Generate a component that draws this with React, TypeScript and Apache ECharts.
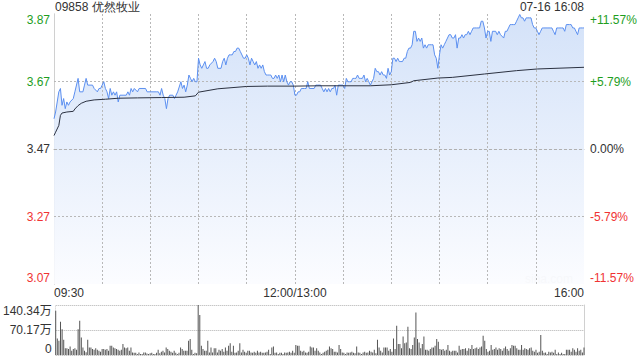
import React, { useEffect, useRef } from "react";
import * as echarts from "echarts";

const stockTitle = "09858 优然牧业";
const stamp = "07-16 16:08";
const prevClose = 3.47;
const rangePct = 11.57;
const volMax = 140.34; // 万
const timeLabels: Record<number, string> = { 0: "09:30", 150: "12:00/13:00", 330: "16:00" };
const timeGridMinutes = [30, 60, 90, 120, 150, 180, 210, 240, 270, 300];

// [minute since 09:30 (trading minutes), price]
const priceTicks: [number, number][] = [
  [0,3.56],[1,3.58],[3,3.64],[4,3.65],[5,3.60],[6,3.62],[7,3.59],[8,3.61],[9,3.60],[10,3.61],
  [12,3.62],[13,3.64],[15,3.68],[16,3.64],[18,3.64],[19,3.66],[20,3.68],[21,3.66],[23,3.66],[24,3.66],
  [25,3.65],[27,3.64],[28,3.65],[29,3.65],[31,3.67],[32,3.65],[33,3.64],[34,3.62],[35,3.65],[36,3.63],
  [37,3.64],[38,3.63],[39,3.64],[40,3.61],[41,3.63],[43,3.63],[45,3.63],[46,3.64],[47,3.63],[48,3.65],
  [49,3.64],[50,3.65],[52,3.64],[53,3.65],[57,3.65],[58,3.64],[64,3.64],[65,3.64],[66,3.63],[67,3.65],
  [68,3.63],[69,3.62],[70,3.59],[71,3.62],[72,3.63],[74,3.63],[75,3.62],[76,3.63],[77,3.64],[79,3.67],
  [80,3.65],[81,3.66],[82,3.64],[83,3.66],[84,3.69],[85,3.68],[86,3.67],[87,3.68],[88,3.67],[89,3.67],
  [90,3.74],[91,3.72],[92,3.71],[93,3.72],[94,3.73],[95,3.71],[96,3.71],[97,3.72],[99,3.73],[100,3.74],
  [101,3.73],[102,3.71],[104,3.71],[105,3.73],[106,3.74],[107,3.72],[108,3.74],[109,3.75],[110,3.75],[111,3.75],
  [112,3.76],[113,3.76],[114,3.77],[115,3.77],[116,3.76],[118,3.74],[119,3.74],[120,3.75],[121,3.74],[122,3.72],
  [123,3.74],[124,3.73],[125,3.72],[126,3.73],[127,3.71],[128,3.72],[129,3.71],[130,3.72],[131,3.70],[132,3.69],
  [133,3.69],[134,3.69],[135,3.69],[136,3.68],[137,3.68],[138,3.69],[139,3.68],[140,3.69],[141,3.67],[142,3.69],
  [143,3.67],[144,3.69],[145,3.67],[146,3.66],[147,3.67],[148,3.67],[149,3.66],[150,3.63],[151,3.63],[152,3.64],
  [153,3.64],[154,3.65],[155,3.65],[156,3.65],[157,3.65],[158,3.67],[159,3.65],[160,3.65],[162,3.65],[163,3.66],
  [164,3.66],[166,3.66],[167,3.65],[168,3.64],[169,3.65],[170,3.64],[171,3.65],[172,3.64],[173,3.65],[174,3.65],
  [175,3.66],[176,3.63],[177,3.66],[178,3.66],[180,3.66],[181,3.65],[182,3.68],[183,3.67],[184,3.67],[185,3.67],
  [186,3.68],[187,3.68],[188,3.68],[189,3.69],[190,3.68],[191,3.68],[192,3.68],[193,3.69],[194,3.67],[195,3.68],
  [196,3.67],[197,3.66],[198,3.67],[199,3.68],[200,3.71],[201,3.70],[202,3.70],[203,3.69],[204,3.70],[205,3.69],
  [206,3.69],[207,3.68],[208,3.71],[209,3.69],[210,3.70],[211,3.74],[212,3.74],[213,3.73],[214,3.74],[215,3.73],
  [216,3.73],[217,3.73],[218,3.74],[219,3.74],[220,3.76],[221,3.77],[222,3.77],[223,3.78],[224,3.82],[225,3.82],
  [226,3.79],[227,3.80],[228,3.79],[229,3.80],[230,3.77],[231,3.78],[232,3.77],[233,3.78],[234,3.78],[235,3.78],
  [236,3.78],[237,3.75],[238,3.74],[239,3.71],[240,3.75],[241,3.78],[242,3.77],[243,3.78],[244,3.79],[245,3.80],
  [246,3.81],[247,3.81],[248,3.80],[249,3.80],[250,3.81],[251,3.77],[252,3.80],[253,3.80],[254,3.81],[255,3.80],
  [256,3.81],[257,3.81],[258,3.82],[259,3.81],[260,3.82],[261,3.83],[262,3.83],[263,3.83],[264,3.83],[265,3.83],
  [266,3.85],[267,3.85],[268,3.83],[269,3.80],[270,3.82],[271,3.82],[272,3.79],[273,3.82],[274,3.82],[275,3.82],
  [276,3.81],[277,3.82],[278,3.81],[280,3.80],[281,3.82],[282,3.82],[283,3.83],[284,3.84],[285,3.84],[286,3.84],
  [287,3.84],[288,3.85],[289,3.86],[290,3.87],[291,3.86],[292,3.86],[293,3.85],[294,3.86],[295,3.86],[296,3.86],
  [297,3.86],[298,3.84],[299,3.83],[300,3.83],[301,3.82],[302,3.81],[303,3.82],[304,3.83],[305,3.83],[307,3.83],
  [309,3.83],[310,3.83],[311,3.82],[312,3.81],[313,3.83],[314,3.83],[315,3.83],[316,3.83],[317,3.83],[318,3.82],
  [319,3.84],[321,3.84],[322,3.84],[323,3.83],[324,3.83],[325,3.82],[326,3.81],[327,3.83],[328,3.83],[329,3.83],
  [330,3.83],
];

// [minute, average price]
const avgTicks: [number, number][] = [
  [0,3.51],[1,3.52],[3,3.54],[4,3.57],[5,3.577],[8,3.58],[12,3.582],[13,3.589],[15,3.599],[17,3.606],
  [20,3.612],[25,3.616],[32,3.618],[40,3.621],[52,3.622],[67,3.623],[81,3.624],[88,3.628],[90,3.639],[102,3.649],
  [120,3.656],[133,3.657],[150,3.657],[165,3.658],[197,3.658],[210,3.661],[222,3.668],[224,3.673],[239,3.681],
  [248,3.683],[268,3.693],[288,3.703],[301,3.708],[330,3.713],
];

// volume per minute, in 万 shares (index = minute)
const volumes: number[] = [
  124,46,40,93,72,43,19,19,17,24,
  12,17,19,15,72,96,49,21,12,8,
  43,21,21,17,15,19,15,12,9,17,
  17,15,17,12,26,26,21,19,17,15,
  12,15,31,21,19,21,12,21,7,6,
  6,3,7,3,3,7,7,4,3,5,
  6,3,3,6,15,5,9,12,7,21,
  17,12,9,6,12,6,3,6,21,17,
  12,12,12,40,45,15,3,6,5,140.34,
  112,26,17,12,12,40,7,21,7,19,
  19,7,15,12,17,9,21,12,26,33,
  9,26,6,7,12,33,7,15,9,6,
  12,12,7,6,9,6,12,7,9,6,
  6,7,9,15,3,21,24,6,7,3,
  6,6,3,7,6,7,9,6,12,6,
  28,26,26,12,9,12,7,6,9,24,
  21,21,12,19,12,7,3,6,9,12,
  15,24,19,17,9,9,7,28,17,7,
  6,3,7,6,7,9,6,5,24,7,
  6,3,7,9,6,7,12,9,7,15,
  5,43,21,12,7,21,21,21,12,17,
  9,46,17,82,31,31,19,52,33,35,
  79,19,17,28,49,119,45,35,19,31,
  52,15,15,12,17,21,21,26,45,37,
  17,15,17,12,15,28,12,9,12,12,
  12,7,26,15,17,17,19,12,19,17,
  28,17,19,21,17,21,24,54,40,17,
  9,12,28,15,17,21,15,19,17,12,
  19,24,17,12,19,28,26,26,19,15,
  15,28,15,19,17,15,19,21,12,9,
  15,6,9,56,12,6,7,3,9,7,
  9,6,15,3,7,3,6,3,3,15,
  15,15,9,19,15,9,19,12,15,7,21,
];

const FONT = "'Liberation Sans', Arial, 'Noto Sans CJK SC', sans-serif";
const GREEN = "#1e9e1e";
const RED = "#f03333";
const DARK = "#333333";
const GRID_C = "#b8b8b8";
const BORDER = "#d0d0d0";

const colorFor = (v: number) => (Math.abs(v) < 1e-9 ? DARK : v > 0 ? GREEN : RED);

export default function App() {
  const ref = useRef<HTMLDivElement>(null);
  useEffect(() => {
    if (!ref.current) return;
    const chart = echarts.init(ref.current, undefined, { renderer: "svg" });
    const lo = prevClose * (1 - rangePct / 100);
    const hi = prevClose * (1 + rangePct / 100);
    const pctLabel = (v: number) => {
      const a = Math.round(Math.abs(v) * 100 + 1e-6) / 100;
      if (a === 0) return "0.00%";
      return (v > 0 ? "+" : "-") + a.toFixed(2) + "%";
    };
    const priceLabel = (v: number) => (prevClose * (1 + v / 100)).toFixed(2);
    const dotted = { color: GRID_C, width: 1, type: [2, 2] };
    const gridLines: any[] = [
      ...timeGridMinutes.map((m) => ({ xAxis: m, lineStyle: dotted })),
      { yAxis: prevClose * (1 + rangePct / 200), lineStyle: dotted },
      { yAxis: prevClose * (1 - rangePct / 200), lineStyle: dotted },
      { yAxis: prevClose, lineStyle: { color: "#b0b0b0", type: [3, 2], width: 1 } },
    ];

    chart.setOption({
      animation: false,
      textStyle: { fontFamily: FONT },
      grid: [
        { left: 54, right: 56, top: 14, height: 270 },
        { left: 54, right: 56, top: 305, height: 50 },
      ],
      xAxis: [
        {
          gridIndex: 0, type: "value", position: "bottom", min: 0, max: 330, interval: 30,
          axisLine: { show: true, lineStyle: { color: BORDER } },
          axisTick: { show: false },
          splitLine: { show: false },
          axisLabel: {
            show: true, margin: 3, fontSize: 12, color: DARK, fontFamily: FONT,
            showMinLabel: true, showMaxLabel: true,
            alignMinLabel: "left", alignMaxLabel: "right",
            formatter: (v: number) => timeLabels[Math.round(v)] ?? "",
          },
        },
        {
          gridIndex: 0, type: "value", position: "top", min: 0, max: 330,
          axisLine: { show: true, lineStyle: { color: BORDER } },
          axisTick: { show: false }, axisLabel: { show: false }, splitLine: { show: false },
        },
        {
          gridIndex: 1, type: "value", min: 0, max: 330, interval: 30,
          axisLine: { show: false }, axisTick: { show: false }, axisLabel: { show: false },
          splitLine: { show: false },
        },
      ],
      yAxis: [
        {
          gridIndex: 0, type: "value", position: "left", min: -rangePct, max: rangePct, interval: rangePct / 2,
          axisLine: { show: true, lineStyle: { color: BORDER } },
          axisTick: { show: false },
          splitLine: { show: false },
          axisLabel: {
            margin: 4, fontSize: 12, fontFamily: FONT,
            showMinLabel: true, showMaxLabel: true,
            verticalAlignMinLabel: "bottom", verticalAlignMaxLabel: "top",
            color: (v: any) => colorFor(Number(v)),
            formatter: priceLabel,
          },
        },
        {
          gridIndex: 0, type: "value", position: "right", min: lo, max: hi,
          axisLine: { show: true, lineStyle: { color: BORDER } },
          axisTick: { show: false },
          splitLine: { show: false },
          axisLabel: { show: false },
        },
        {
          gridIndex: 1, type: "value", position: "left", min: 0, max: volMax, interval: volMax / 2,
          axisLine: { show: true, lineStyle: { color: "#dddddd", type: "dotted" } },
          axisTick: { show: false },
          splitLine: { show: true, lineStyle: { color: "#b0b0b0", type: "dotted" } },
          axisLabel: {
            margin: 4, fontSize: 12, color: DARK, fontFamily: FONT,
            showMinLabel: true, showMaxLabel: true,
            verticalAlignMinLabel: "bottom", verticalAlignMaxLabel: "top",
            formatter: (v: number) => (v === 0 ? "0" : v.toFixed(2) + "万"),
          },
        },
        {
          gridIndex: 1, type: "value", position: "right", min: 0, max: volMax,
          axisLine: { show: true, lineStyle: { color: BORDER } },
          axisTick: { show: false }, axisLabel: { show: false }, splitLine: { show: false },
        },
        {
          gridIndex: 0, type: "value", position: "right", offset: 0, min: -rangePct, max: rangePct, interval: rangePct / 2,
          axisLine: { show: false },
          axisTick: { show: false },
          splitLine: { show: false },
          axisLabel: {
            margin: 6, fontSize: 12, fontFamily: FONT,
            showMinLabel: true, showMaxLabel: true,
            verticalAlignMinLabel: "bottom", verticalAlignMaxLabel: "top",
            color: (v: any) => colorFor(Number(v)),
            formatter: pctLabel,
          },
        },
      ],
      graphic: [
        { type: "text", left: 55, top: 1, style: { text: stockTitle, fontSize: 12, fill: DARK, font: `12px ${FONT}` } },
        { type: "text", right: 56, top: 1, style: { text: stamp, fontSize: 12, fill: DARK, font: `12px ${FONT}` } },
        { type: "text", right: 67, top: 273, z: 1, style: { text: "sina.com", fontSize: 12, fill: "#d2d2d2", font: `12px ${FONT}` } },
      ],
      series: [
        {
          type: "line", xAxisIndex: 0, yAxisIndex: 1, data: priceTicks, showSymbol: false, symbol: "none",
          lineStyle: { width: 0, opacity: 0 },
          areaStyle: {
            opacity: 0.9,
            color: new echarts.graphic.LinearGradient(0, 14, 0, 284, [
              { offset: 0, color: "#cfdff8" },
              { offset: 1, color: "#fbfcff" },
            ], true),
          },
          markLine: {
            silent: true, symbol: "none", label: { show: false }, z: 5,
            data: gridLines,
          },
          z: 1,
        },
        {
          type: "line", xAxisIndex: 0, yAxisIndex: 1, data: priceTicks, showSymbol: false, symbol: "none",
          lineStyle: { color: "#5b8ff0", width: 1 },
          z: 6,
        },
        {
          type: "line", xAxisIndex: 0, yAxisIndex: 1, data: avgTicks, showSymbol: false, symbol: "none",
          lineStyle: { color: "#2b3140", width: 1 }, z: 7,
        },
        {
          type: "bar", xAxisIndex: 2, yAxisIndex: 2, data: volumes.map((v, i) => [i, v]),
          barWidth: 1, itemStyle: { color: "#555555" },
        },
      ],
    });
    return () => chart.dispose();
  }, []);
  return <div ref={ref} style={{ width: 640, height: 360, position: "absolute", left: 0, top: 0 }} />;
}
